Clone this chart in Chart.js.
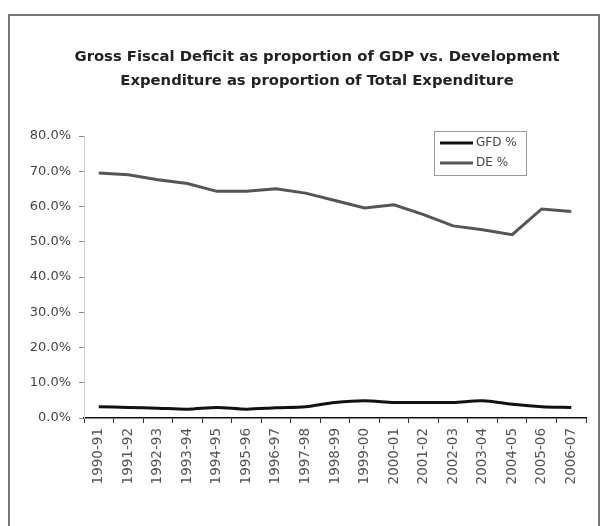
<!DOCTYPE html>
<html>
<head>
<meta charset="utf-8">
<script src="https://cdn.jsdelivr.net/npm/chart.js@4/dist/chart.umd.min.js"></script>
<style>
  html, body { margin: 0; padding: 0; background: #fff; overflow: hidden; }
  #frame { position: absolute; left: 8px; top: 14px; width: 588px; height: 600px; border: 2px solid #777; }
  #chartOne { position: absolute; left: 0; top: 0; }
</style>
</head>
<body>
<div id="frame"></div>
<canvas id="chartOne" width="606" height="526"></canvas>
<script>
const years = ['1990-91', '1991-92', '1992-93', '1993-94', '1994-95', '1995-96', '1996-97', '1997-98',
  '1998-99', '1999-00', '2000-01', '2001-02', '2002-03', '2003-04', '2004-05', '2005-06', '2006-07'];
const gfdPct = [3.2, 3.0, 2.8, 2.5, 3.0, 2.5, 2.9, 3.2, 4.4, 4.9, 4.4, 4.4, 4.4, 4.9, 3.9, 3.2, 3.0];
const dePct = [69.5, 69.0, 67.6, 66.5, 64.3, 64.3, 65.0, 63.8, 61.7, 59.6, 60.5, 57.7, 54.5, 53.4, 52.0, 59.3, 58.6];
const yTicks = [0, 10, 20, 30, 40, 50, 60, 70, 80];
const titleLines = ['Gross Fiscal Deficit as proportion of GDP vs. Development',
  'Expenditure as proportion of Total Expenditure'];

// two-line heading, centred over the whole framed area rather than the plot
const heading = {
  id: 'heading',
  afterDraw(chart) {
    const ctx = chart.ctx;
    ctx.save();
    ctx.font = 'bold 14.8px "DejaVu Sans"';
    ctx.fillStyle = '#222';
    ctx.textAlign = 'center';
    ctx.textBaseline = 'middle';
    titleLines.forEach((t, i) => ctx.fillText(t, 317, 57 + i * 24));
    ctx.restore();
  }
};

// boxed legend in the upper right of the plot
const boxLegend = {
  id: 'boxLegend',
  afterDraw(chart) {
    const ctx = chart.ctx;
    const x = 434, y = 131, w = 92, h = 44;
    ctx.save();
    ctx.fillStyle = '#fff';
    ctx.fillRect(x, y, w, h);
    ctx.strokeStyle = '#999';
    ctx.lineWidth = 1;
    ctx.strokeRect(x + 0.5, y + 0.5, w, h);
    ctx.font = '12px "DejaVu Sans"';
    ctx.textBaseline = 'middle';
    chart.data.datasets.forEach((ds, i) => {
      const ly = y + 12 + i * 20;
      ctx.strokeStyle = ds.borderColor;
      ctx.lineWidth = ds.borderWidth;
      ctx.beginPath();
      ctx.moveTo(x + 6, ly);
      ctx.lineTo(x + 39, ly);
      ctx.stroke();
      ctx.fillStyle = '#444';
      ctx.fillText(ds.label, x + 42, ly);
    });
    ctx.restore();
  }
};

const chart1 = document.getElementById('chartOne');

new Chart(chart1, {
  type: 'line',
  data: {
    labels: years,
    datasets: [{
      label: 'GFD %',
      data: gfdPct,
      borderColor: '#111',
      borderWidth: 3,
      pointRadius: 0,
      tension: 0.3
    }, {
      label: 'DE %',
      data: dePct,
      borderColor: '#555',
      borderWidth: 3,
      pointRadius: 0,
      tension: 0
    }]
  },
  options: {
    responsive: false,
    animation: false,
    devicePixelRatio: 1,
    layout: { padding: { left: 0, right: 20, top: 136, bottom: 0 } },
    plugins: {
      legend: { display: false },
      tooltip: { enabled: false },
      title: { display: false }
    },
    scales: {
      x: {
        offset: true,
        grid: { offset: true, drawOnChartArea: false, tickLength: 5, color: '#333' },
        border: { color: '#111', width: 1.5 },
        ticks: { minRotation: 90, maxRotation: 90, autoSkip: false, padding: 5, color: '#555',
                 font: { family: 'DejaVu Sans', size: 13.5 } },
        afterFit(scale) { scale.height = 108; }
      },
      y: {
        min: 0,
        max: 80,
        afterBuildTicks(scale) { scale.ticks = yTicks.map(v => ({ value: v })); },
        grid: { drawOnChartArea: false, tickLength: 5, color: '#888' },
        border: { color: '#ccc' },
        ticks: { padding: 8, color: '#444', font: { family: 'DejaVu Sans', size: 13 },
                 callback: v => v.toFixed(1) + '%' },
        afterFit(scale) { scale.width = 84; }
      }
    }
  },
  plugins: [heading, boxLegend]
});
</script>
</body>
</html>
